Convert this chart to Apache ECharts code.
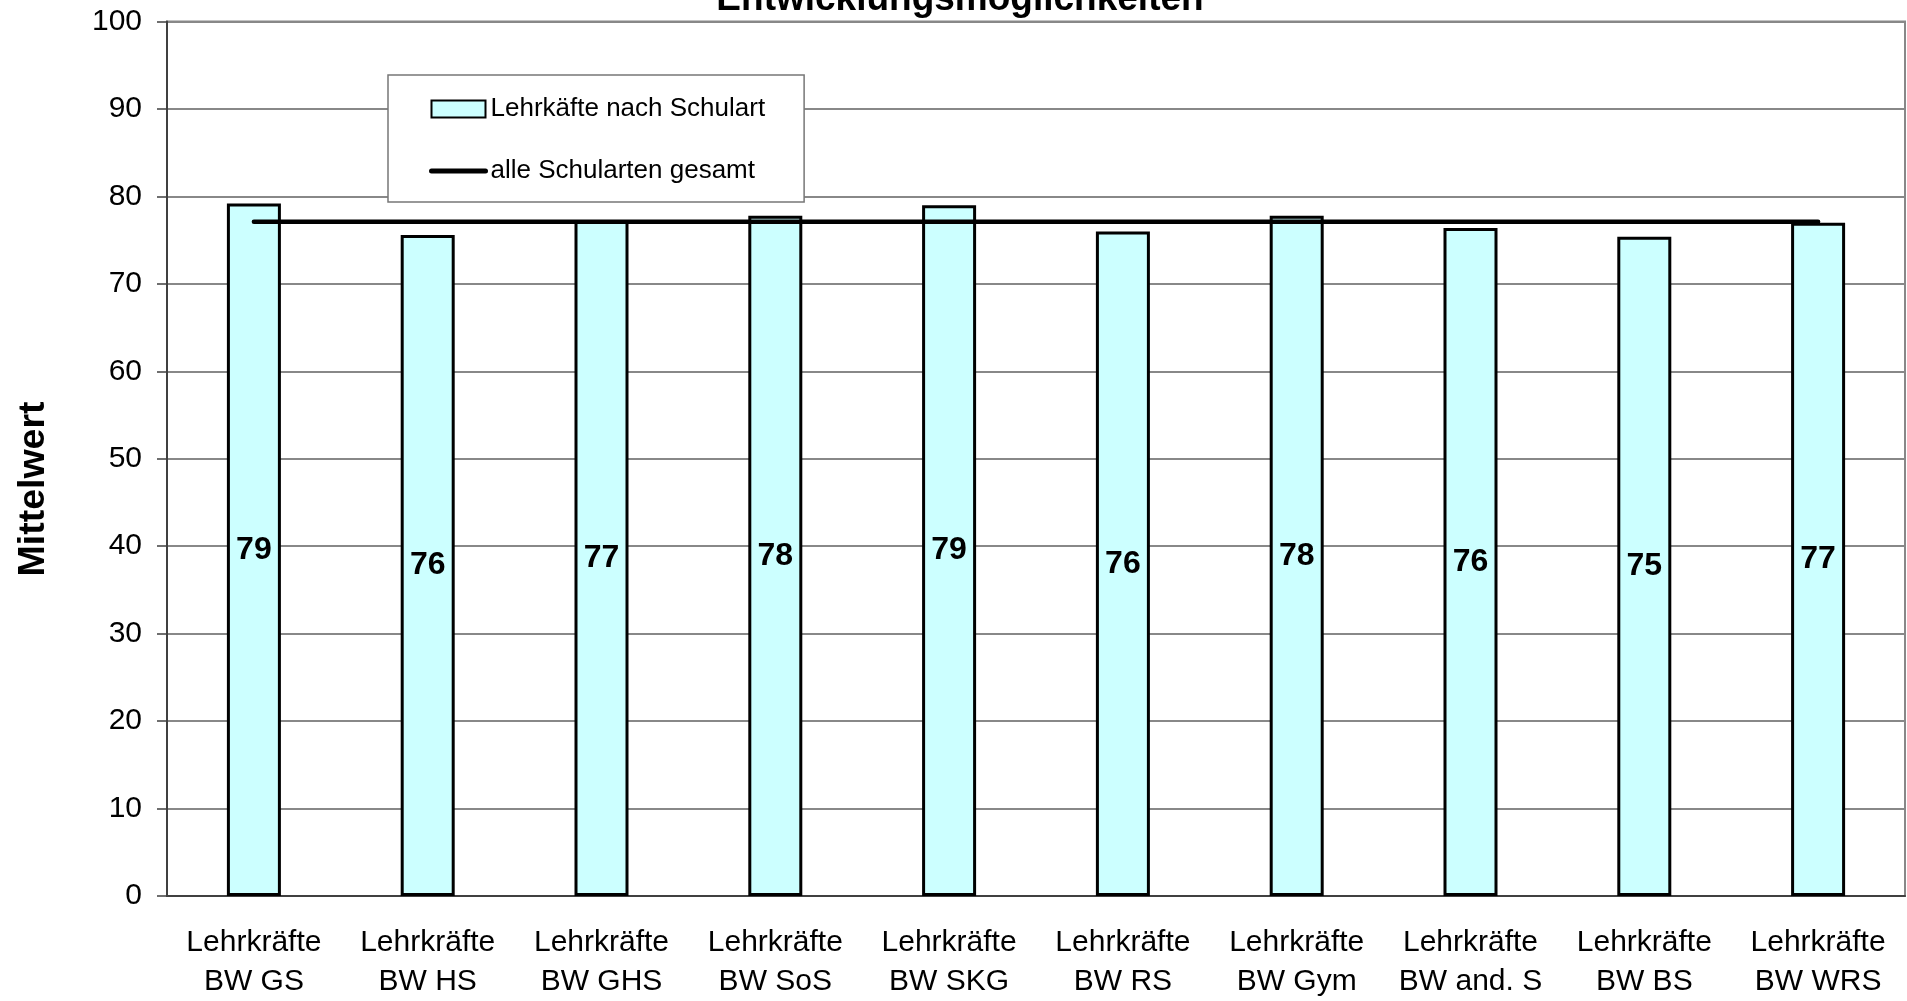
<!DOCTYPE html>
<html>
<head>
<meta charset="utf-8">
<title>Entwicklungsmöglichkeiten</title>
<script src="https://cdn.jsdelivr.net/npm/echarts@6/dist/echarts.min.js"></script>
<style>
  html, body { margin: 0; padding: 0; background: #fff; }
  #chart { width: 1907px; height: 1001px; }
</style>
</head>
<body>
<div id="chart"></div>
<script>
const categories = [
  "Lehrkräfte\nBW GS", "Lehrkräfte\nBW HS", "Lehrkräfte\nBW GHS", "Lehrkräfte\nBW SoS", "Lehrkräfte\nBW SKG",
  "Lehrkräfte\nBW RS", "Lehrkräfte\nBW Gym", "Lehrkräfte\nBW and. S", "Lehrkräfte\nBW BS", "Lehrkräfte\nBW WRS"
]
const schoolValues = [79.2, 75.6, 77.3, 77.8, 79.0, 76.0, 77.8, 76.4, 75.4, 77.0]
const totalValues = [77.1, 77.1, 77.1, 77.1, 77.1, 77.1, 77.1, 77.1, 77.1, 77.1]
const seriesNames = ["Lehrkäfte nach Schulart", "alle Schularten gesamt"]

const font = "'Liberation Sans', Arial, sans-serif"
const chart = echarts.init(document.getElementById("chart"), null, { renderer: "canvas" })

chart.setOption({
  animation: false,
  textStyle: { fontFamily: font, color: "#000" },
  graphic: [
    {
      type: "text",
      x: 960,
      y: 0,
      style: {
        text: "Entwicklungsmöglichkeiten",
        font: `bold 37px ${font}`,
        fill: "#000",
        textAlign: "center",
        textVerticalAlign: "middle"
      }
    },
    {
      type: "text",
      x: 34,
      y: 489,
      rotation: Math.PI / 2,
      style: {
        text: "Mittelwert",
        font: `bold 37.5px ${font}`,
        fill: "#000",
        textAlign: "center",
        textVerticalAlign: "middle"
      }
    }
  ],
  grid: {
    left: 167,
    right: 2,
    top: 21.5,
    bottom: 103.5,
    show: true,
    borderColor: "#888",
    borderWidth: 2,
    backgroundColor: "#fff"
  },
  legend: {
    orient: "vertical",
    left: 388,
    top: 75,
    data: [
      { name: seriesNames[0], icon: "rect" },
      { name: seriesNames[1], itemStyle: { opacity: 0 }, lineStyle: { width: 5, color: "#000" } }
    ],
    backgroundColor: "#fff",
    borderColor: "#777",
    borderWidth: 1.5,
    padding: [21, 39, 18, 41],
    itemWidth: 54,
    itemHeight: 17,
    itemGap: 36,
    textStyle: { fontFamily: font, fontSize: 26, color: "#000" }
  },
  xAxis: {
    type: "category",
    data: categories,
    axisLine: { lineStyle: { color: "#404040", width: 2 } },
    axisTick: { length: 10, lineStyle: { color: "#404040", width: 1.5 } },
    axisLabel: { fontFamily: font, fontSize: 30, color: "#000", lineHeight: 39, margin: 27, interval: 0 }
  },
  yAxis: {
    type: "value",
    min: 0,
    max: 100,
    interval: 10,
    axisLine: { show: true, lineStyle: { color: "#404040", width: 2 } },
    axisTick: { show: true, length: 10, lineStyle: { color: "#404040", width: 1.5 } },
    axisLabel: { fontFamily: font, fontSize: 30, color: "#000", margin: 25 },
    splitLine: { lineStyle: { color: "#888", width: 2 } }
  },
  series: [
    {
      name: seriesNames[0],
      type: "bar",
      data: schoolValues,
      barWidth: 54,
      itemStyle: { color: "#ccffff", borderColor: "#000", borderWidth: 3 },
      label: {
        show: true,
        position: "inside",
        fontFamily: font,
        fontSize: 32,
        fontWeight: "bold",
        color: "#000",
        formatter: (p) => Math.round(p.value)
      },
      z: 2
    },
    {
      name: seriesNames[1],
      type: "line",
      data: totalValues,
      symbol: "none",
      lineStyle: { color: "#000", width: 4.5, cap: "round" },
      itemStyle: { color: "#000" },
      z: 3
    }
  ]
})
</script>
</body>
</html>
